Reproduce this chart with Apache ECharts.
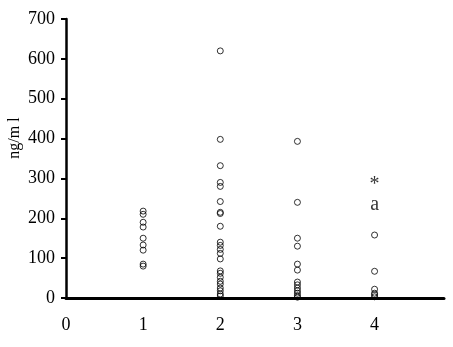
<!DOCTYPE html>
<html>
<head>
<meta charset="utf-8">
<script src="https://cdn.jsdelivr.net/npm/echarts@6/dist/echarts.min.js"></script>
<style>
html,body{margin:0;padding:0;background:#fff;}
#chart{width:453px;height:347px;}
</style>
</head>
<body>
<div id="chart"></div>
<script>
var groups = [1, 2, 3, 4];
var group1 = [218, 210, 190, 178, 150, 133, 120, 85, 80];
var group2 = [620, 398, 332, 290, 280, 242, 215, 212, 180, 140, 132, 122, 112, 98, 68, 62, 52, 42, 35, 25, 18, 10, 5];
var group3 = [393, 240, 150, 130, 85, 70, 40, 33, 25, 18, 12, 6, 2];
var group4 = [158, 67, 22, 12, 8, 3];
var annotationX = 4;
var annotationY = [284, 234];
var annotationText = ['*', 'a'];
var yTicks = [0, 100, 200, 300, 400, 500, 600, 700];
var yAxisName = 'ng/m l';

var allGroups = [group1, group2, group3, group4];
var pts = [];
allGroups.forEach(function (arr, i) {
  arr.forEach(function (v) { pts.push([groups[i], v]); });
});
var ann = annotationY.map(function (v, i) { return { value: [annotationX, v], label: { formatter: annotationText[i] } }; });

var serif = 'Liberation Serif';
var chart = echarts.init(document.getElementById('chart'), null, { renderer: 'canvas' });
chart.setOption({
  animation: false,
  backgroundColor: '#fff',
  grid: { left: 66, right: 9, top: 19, bottom: 49 },
  xAxis: {
    type: 'value', min: 0, max: 4.9, interval: 1,
    axisLine: { lineStyle: { color: '#000', width: 3 } },
    axisTick: { show: false },
    splitLine: { show: false },
    axisLabel: { color: '#000', fontFamily: serif, fontSize: 18, margin: 18, showMaxLabel: false,
      formatter: function (v) { return groups.indexOf(v) >= 0 || v === 0 ? String(v) : ''; } }
  },
  yAxis: {
    type: 'value', min: yTicks[0], max: yTicks[yTicks.length - 1], interval: 100,
    axisLine: { show: true, lineStyle: { color: '#000', width: 2.5 } },
    axisTick: { show: true, length: 5, lineStyle: { color: '#000', width: 2 } },
    splitLine: { show: false },
    axisLabel: { color: '#000', fontFamily: serif, fontSize: 18, margin: 11 }
  },
  graphic: [{
    type: 'text', x: 7, y: 138, rotation: Math.PI / 2,
    style: { text: yAxisName, fill: '#000', font: '16px "Liberation Serif"', textAlign: 'center', textVerticalAlign: 'top' }
  }],
  series: [{
    type: 'scatter',
    data: pts,
    symbol: 'circle',
    symbolSize: 6,
    itemStyle: { color: 'rgba(0,0,0,0)', borderColor: '#000', borderWidth: 1 }
  }, {
    type: 'scatter',
    data: ann,
    symbolSize: 0,
    label: { show: true, position: 'inside', color: '#000', fontFamily: serif, fontSize: 20 }
  }]
});
</script>
</body>
</html>
